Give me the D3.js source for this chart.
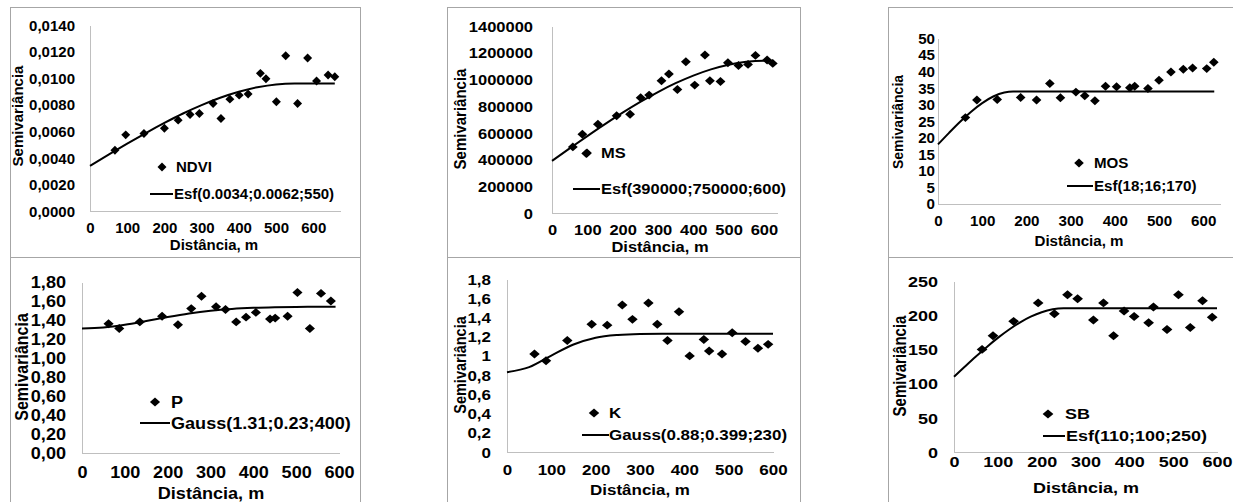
<!DOCTYPE html>
<html><head><meta charset="utf-8">
<script src="https://cdn.jsdelivr.net/npm/d3@7"></script>
<style>body{margin:0;background:#fff} svg{display:block}</style>
</head><body><svg id="c" width="1233" height="502"></svg>
<script>
// ---------- DATA ----------
const xTicks = [0, 100, 200, 300, 400, 500, 600];

const ndviDist  = [67,96,145,200,237,269,294,331,352,376,401,425,458,473,501,526,558,585,609,640,658];
const ndviGamma = [0.00457,0.00573,0.00583,0.00623,0.00684,0.00726,0.00734,0.00809,0.00696,0.00842,0.00872,0.0088,0.01036,0.00995,0.00822,0.01169,0.00809,0.01151,0.00978,0.01023,0.0101];
const ndviFitDist  = [0,50,100,150,200,250,300,350,400,450,500,550,658];
const ndviFitGamma = [0.0034,0.00424,0.00507,0.00587,0.00663,0.00734,0.00797,0.00852,0.00897,0.00931,0.00953,0.0096,0.0096];
const ndviTicks = [0,0.002,0.004,0.006,0.008,0.010,0.012,0.014];

const msDist  = [59,86,97,130,183,221,251,275,310,331,355,379,404,433,447,477,498,528,555,576,609,625];
const msGamma = [495000,590000,445000,665000,727500,740000,862500,882500,990000,1040000,925000,1132500,957500,1182500,990000,985000,1125000,1105000,1112500,1180000,1145000,1120000];
const msFitDist  = [0,50,100,150,200,250,300,350,400,450,500,550,600,625];
const msFitGamma = [390000,483500,575800,665400,751100,831600,905600,971800,1028900,1075500,1110500,1132400,1140000,1140000];
const msTicks = [0,200000,400000,600000,800000,1000000,1200000,1400000];

const mosDist  = [62,88,134,187,223,253,277,312,332,355,379,404,434,445,475,500,527,555,576,608,624];
const mosGamma = [26.1,31.4,31.6,32.2,31.4,36.4,32.1,33.8,32.7,31.2,35.6,35.4,35.1,35.6,34.9,37.4,39.9,40.7,41.1,40.9,42.8];
const mosFitDist  = [0,25,50,75,100,125,150,170,625];
const mosFitGamma = [18,21.5,24.85,27.9,30.49,32.47,33.68,34,34];
const mosTicks = [0,5,10,15,20,25,30,35,40,45,50];

const pDist  = [62,87,135,187,224,255,279,313,335,360,383,406,439,451,480,503,532,558,581];
const pGamma = [1.36,1.31,1.38,1.44,1.35,1.52,1.65,1.54,1.51,1.38,1.43,1.48,1.41,1.42,1.44,1.69,1.31,1.68,1.60];
const pFitDist  = [0,50,100,150,200,250,300,350,400,450,500,550,592];
const pFitGamma = [1.31,1.3205,1.3493,1.3892,1.4313,1.4687,1.4975,1.5169,1.5285,1.5348,1.5379,1.5392,1.54];
const pTicks = [0,0.2,0.4,0.6,0.8,1.0,1.2,1.4,1.6,1.8];

const kDist  = [62,88,136,191,226,260,283,319,339,362,388,412,444,456,485,508,538,566,589];
const kGamma = [1.02,0.95,1.16,1.33,1.32,1.53,1.38,1.55,1.33,1.16,1.46,1.0,1.17,1.05,1.02,1.24,1.15,1.08,1.12];
const kFitDist  = [0,50,100,150,200,250,300,350,600];
const kFitGamma = [0.83,0.883,1.003,1.118,1.189,1.218,1.228,1.23,1.23];
const kTicks = [0,0.2,0.4,0.6,0.8,1.0,1.2,1.4,1.6,1.8];

const sbDist  = [64,89,136,192,229,259,282,318,341,364,388,411,444,455,486,512,539,567,589];
const sbGamma = [150,170,191,218,202,230,224,193,218,170,206,198,189,212,179,230,182,221,197];
const sbFitDist  = [0,25,50,75,100,125,150,175,200,225,250,600];
const sbFitGamma = [110,124.95,139.6,153.65,166.8,178.75,189.2,197.85,204.4,208.55,210,210];
const sbTicks = [0,50,100,150,200,250];

const seriesNames = ['NDVI','MS','MOS','P','K','SB'];
const modelNames = ['Esf(0.0034;0.0062;550)','Esf(390000;750000;600)','Esf(18;16;170)','Gauss(1.31;0.23;400)','Gauss(0.88;0.399;230)','Esf(110;100;250)'];
const yTitle = 'Semivariância';
const xTitle = 'Distância, m';

// ---------- LAYOUT ----------
const FONT = "Arial, 'Liberation Sans', sans-serif";
const comma = f => v => f(v).replace('.', ',');
const layouts = [
  {x0:90,x1:340,xMax:672,yB:211,yT:25,yMax:0.014,fs:15,sx:1.0,yGap:15,xLabY:228,xTitleX:214,xTitleY:245,yTitleX:18,yTitleY:116,
   dia:[162,167],diaT:176,ln:[150,173,194],lnT:174, fmt:comma(d3.format('.4f'))},
  {x0:552,x1:777,xMax:637,yB:213,yT:26,yMax:1400000,fs:15,sx:1.1,yGap:19,xLabY:230,xTitleX:660,xTitleY:247,yTitleX:460,yTitleY:119,
   dia:[587,153],diaT:601,ln:[573,600,189],lnT:601, fmt:d3.format('d')},
  {x0:938,x1:1220,xMax:638,yB:204,yT:38.5,yMax:50,fs:14,sx:1.08,yGap:3,xLabY:221,xTitleX:1079,xTitleY:241,yTitleX:898,yTitleY:122,
   dia:[1079,163],diaT:1094,ln:[1067,1093,186],lnT:1094, fmt:d3.format('d')},
  {x0:82,x1:339,xMax:600,yB:453,yT:282,yMax:1.8,fs:16,sx:1.13,yGap:16,xLabY:472,xTitleX:211,xTitleY:493,yTitleX:22,yTitleY:367,
   dia:[155,402],diaT:171,ln:[140,170,423],lnT:171, fmt:comma(d3.format('.2f'))},
  {x0:507,x1:773,xMax:600,yB:452,yT:279,yMax:1.8,fs:14.5,sx:1.17,yGap:16,xLabY:470,xTitleX:640,xTitleY:490,yTitleX:460,yTitleY:365,
   dia:[594,413],diaT:609,ln:[582,609,435],lnT:609, fmt:comma(d3.format('.1~f'))},
  {x0:954,x1:1217,xMax:600,yB:452,yT:281,yMax:250,fs:15,sx:1.2,yGap:16,xLabY:462,xTitleX:1086,xTitleY:488,yTitleX:900,yTitleY:366,
   dia:[1048,414],diaT:1065,ln:[1043,1065,436],lnT:1066, fmt:d3.format('d')}
];
const panelData = [
  [ndviDist,ndviGamma,ndviFitDist,ndviFitGamma,ndviTicks],
  [msDist,msGamma,msFitDist,msFitGamma,msTicks],
  [mosDist,mosGamma,mosFitDist,mosFitGamma,mosTicks],
  [pDist,pGamma,pFitDist,pFitGamma,pTicks],
  [kDist,kGamma,kFitDist,kFitGamma,kTicks],
  [sbDist,sbGamma,sbFitDist,sbFitGamma,sbTicks]
];
const borders = [[10,7,360,257],[447,7,800,257],[888,7,1240,257],[10,257,360,510],[447,257,800,510],[888,257,1240,510]];

const svg = d3.select('#c');
svg.append('g').selectAll('rect').data(borders).join('rect')
  .attr('x',d=>d[0]+0.5).attr('y',d=>d[1]+0.5).attr('width',d=>d[2]-d[0]).attr('height',d=>d[3]-d[1])
  .attr('fill','none').attr('stroke','#a6a6a6').attr('stroke-width',1);

function styleText(sel, L){
  sel.attr('font-size',L.fs).attr('font-weight','bold').attr('font-family',FONT).attr('fill','#000');
}
function label(g, L, x, y, str, anchor, rotate){
  const t = g.append('text').text(str).attr('text-anchor',anchor).attr('dy','0.35em')
    .attr('transform', rotate ? `translate(${x},${y}) rotate(-90) scale(1,${L.sx})` : `translate(${x},${y}) scale(${L.sx},1)`);
  styleText(t, L);
  return t;
}

panelData.forEach((pd, i) => {
  const [dist, gamma, fitDist, fitGamma, yTicks] = pd;
  const L = layouts[i];
  const g = svg.append('g');
  const x = d3.scaleLinear().domain([0, L.xMax]).range([L.x0, L.x1]);
  const y = d3.scaleLinear().domain([0, L.yMax]).range([L.yB, L.yT]);

  const ya = g.append('g').attr('transform',`translate(${L.x0},0)`)
    .call(d3.axisLeft(y).tickValues(yTicks).tickSize(0).tickSizeOuter(0).tickFormat(L.fmt));
  ya.select('.domain').attr('stroke','#bfbfbf').attr('shape-rendering','crispEdges');
  styleText(ya.selectAll('text').attr('x',0).attr('dy','0.35em')
    .attr('transform',`translate(${-L.yGap},0) scale(${L.sx},1)`), L);

  const xa = g.append('g').attr('transform',`translate(0,${L.yB})`)
    .call(d3.axisBottom(x).tickValues(xTicks).tickSize(0).tickSizeOuter(0).tickFormat(d3.format('d')));
  xa.select('.domain').attr('stroke','#bfbfbf').attr('shape-rendering','crispEdges');
  styleText(xa.selectAll('text').attr('y',0).attr('dy','0.35em')
    .attr('transform',`translate(0,${L.xLabY - L.yB}) scale(${L.sx},1)`), L);

  const line = d3.line().x(d=>x(d[0])).y(d=>y(d[1])).curve(d3.curveMonotoneX);
  g.append('path').datum(d3.zip(fitDist, fitGamma)).attr('d', line)
    .attr('fill','none').attr('stroke','#000').attr('stroke-width',2);

  const sym = d3.symbol(d3.symbolSquare, 40)();
  g.append('g').selectAll('path').data(d3.zip(dist, gamma)).join('path')
    .attr('d', sym).attr('fill','#000')
    .attr('transform', d=>`translate(${x(d[0])},${y(d[1])}) scale(${L.sx},1) rotate(45)`);

  // legend
  g.append('path').attr('d', sym).attr('fill','#000')
    .attr('transform', `translate(${L.dia[0]},${L.dia[1]}) scale(${L.sx},1) rotate(45)`);
  label(g, L, L.diaT, L.dia[1], seriesNames[i], 'start');
  g.append('line').attr('x1',L.ln[0]).attr('x2',L.ln[1]).attr('y1',L.ln[2]).attr('y2',L.ln[2])
    .attr('stroke','#000').attr('stroke-width',2);
  label(g, L, L.lnT, L.ln[2], modelNames[i], 'start');

  label(g, L, L.xTitleX, L.xTitleY, xTitle, 'middle');
  label(g, L, L.yTitleX, L.yTitleY, yTitle, 'middle', true);
});
</script></body></html>
